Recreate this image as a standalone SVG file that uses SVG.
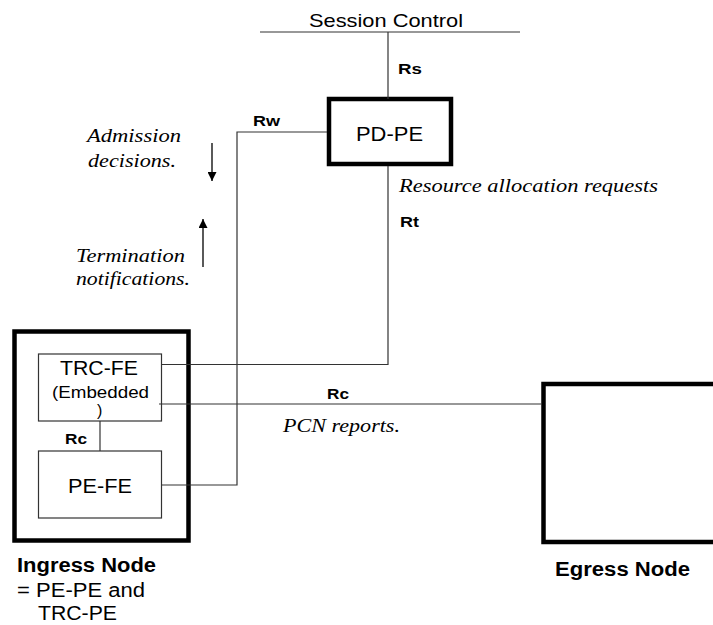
<svg xmlns="http://www.w3.org/2000/svg" width="713" height="625" viewBox="0 0 713 625">
<style>
.sans{font-family:"Liberation Sans",Arial,sans-serif;font-size:20px;fill:#000}
.bold{font-family:"Liberation Sans",Arial,sans-serif;font-weight:bold;fill:#000}
.ital{font-family:"Liberation Serif","Times New Roman",serif;font-style:italic;font-size:18.5px;fill:#000}
.thick{fill:#fff;stroke:#000;stroke-width:4.5}
.thin{fill:#fff;stroke:#333;stroke-width:1.2}
.conn{fill:none;stroke:#333;stroke-width:1.2}
</style>
<defs>
<marker id="ah" viewBox="0 0 10 10" refX="10" refY="5" markerWidth="9" markerHeight="9" markerUnits="userSpaceOnUse" orient="auto">
<path d="M0,0 L10,5 L0,10 z" fill="#000"/>
</marker>
</defs>
<rect width="713" height="625" fill="#fff"/>

<g id="session-control">
<text class="sans" x="309" y="27" textLength="154" lengthAdjust="spacingAndGlyphs" style="font-size:19px">Session Control</text>
</g>

<g id="pd-pe">
<rect class="thick" x="329" y="99" width="122" height="65"/>
<text class="sans" x="356" y="140.5" textLength="67" lengthAdjust="spacingAndGlyphs">PD-PE</text>
</g>

<g id="ingress-node">
<rect class="thick" x="14.5" y="331.5" width="174" height="209"/>
<text class="bold" font-size="20" x="17" y="572" textLength="139" lengthAdjust="spacingAndGlyphs">Ingress Node</text>
<text class="sans" x="17" y="597" textLength="128" lengthAdjust="spacingAndGlyphs">= PE-PE and</text>
<text class="sans" x="38" y="620" textLength="79" lengthAdjust="spacingAndGlyphs">TRC-PE</text>
</g>

<g id="trc-fe">
<rect class="thin" x="38.5" y="354" width="123" height="67"/>
<text class="sans" x="60" y="375" textLength="78" lengthAdjust="spacingAndGlyphs">TRC-FE</text>
<text class="sans" x="52" y="398" textLength="97" lengthAdjust="spacingAndGlyphs" style="font-size:16px">(Embedded</text>
<text class="sans" x="97" y="416" style="font-size:16px">)</text>
</g>

<g id="pe-fe">
<rect class="thin" x="38.5" y="451" width="123" height="67"/>
<text class="sans" x="68" y="493" textLength="64" lengthAdjust="spacingAndGlyphs">PE-FE</text>
</g>

<g id="egress-node">
<rect class="thick" x="543.5" y="384" width="180" height="158"/>
<text class="bold" font-size="20" x="555" y="576" textLength="135" lengthAdjust="spacingAndGlyphs">Egress Node</text>
</g>

<g id="connectors">
<line class="conn" x1="260" y1="32" x2="520" y2="32"/>
<line class="conn" x1="388" y1="32" x2="388" y2="99"/>
<polyline class="conn" points="327,132 237,132 237,485 162,485"/>
<polyline class="conn" points="388,166 388,364.5 162,364.5"/>
<line class="conn" x1="159" y1="404" x2="541.5" y2="404"/>
<line class="conn" x1="100" y1="421" x2="100" y2="451"/>
<line x1="212" y1="143" x2="212" y2="181" stroke="#000" stroke-width="1.3" marker-end="url(#ah)"/>
<line x1="203" y1="267" x2="203" y2="219" stroke="#000" stroke-width="1.3" marker-end="url(#ah)"/>
</g>

<g id="labels">
<text class="bold" font-size="15.5" x="398" y="73.5" textLength="24" lengthAdjust="spacingAndGlyphs">Rs</text>
<text class="bold" font-size="15.5" x="253" y="126" textLength="27" lengthAdjust="spacingAndGlyphs">Rw</text>
<text class="bold" font-size="15.5" x="400" y="227" textLength="19" lengthAdjust="spacingAndGlyphs">Rt</text>
<text class="bold" font-size="15.5" x="65" y="444" textLength="22" lengthAdjust="spacingAndGlyphs">Rc</text>
<text class="bold" font-size="15.5" x="327" y="399" textLength="22" lengthAdjust="spacingAndGlyphs">Rc</text>
<text class="ital" x="87" y="142" textLength="94" lengthAdjust="spacingAndGlyphs">Admission</text>
<text class="ital" x="88" y="167" textLength="88" lengthAdjust="spacingAndGlyphs">decisions.</text>
<text class="ital" x="76" y="262" textLength="109" lengthAdjust="spacingAndGlyphs">Termination</text>
<text class="ital" x="76" y="285" textLength="114" lengthAdjust="spacingAndGlyphs">notifications.</text>
<text class="ital" x="399" y="192" textLength="259" lengthAdjust="spacingAndGlyphs">Resource allocation requests</text>
<text class="ital" x="283" y="432" textLength="117" lengthAdjust="spacingAndGlyphs">PCN reports.</text>
</g>
</svg>
